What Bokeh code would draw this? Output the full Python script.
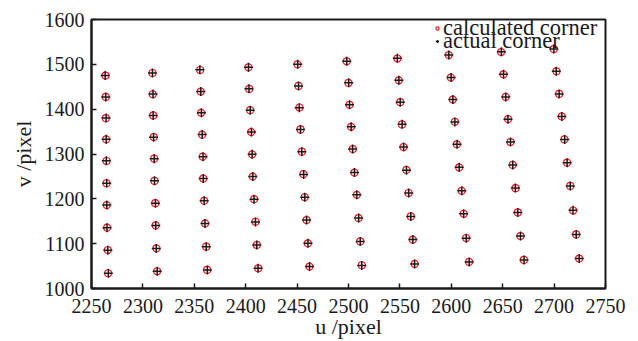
from bokeh.plotting import figure
from bokeh.models import Range1d, FixedTicker, Legend, LegendItem
from bokeh.embed import file_html
from bokeh.resources import INLINE

# ---------------- data ----------------
x_ticks = [2250, 2300, 2350, 2400, 2450, 2500, 2550, 2600, 2650, 2700, 2750]
y_ticks = [1000, 1100, 1200, 1300, 1400, 1500, 1600]

# calculated corners (column by column, top to bottom)
u_calc = [
    2263.6, 2263.9, 2263.9, 2264.3, 2264.6, 2264.6, 2264.9, 2265.3, 2265.9, 2266.2,
    2309.3, 2309.6, 2310.0, 2310.6, 2311.0, 2311.3, 2312.0, 2312.5, 2313.2, 2313.9,
    2355.7, 2356.3, 2356.7, 2357.7, 2358.3, 2358.7, 2359.6, 2360.6, 2361.6, 2362.5,
    2402.7, 2403.4, 2404.4, 2405.4, 2406.3, 2406.9, 2408.3, 2409.5, 2410.8, 2412.2,
    2450.4, 2451.4, 2452.3, 2453.3, 2454.6, 2456.2, 2457.5, 2459.2, 2460.4, 2462.1,
    2498.3, 2500.0, 2501.0, 2502.6, 2504.2, 2505.8, 2508.1, 2509.7, 2511.4, 2512.9,
    2547.7, 2549.0, 2550.3, 2552.0, 2553.6, 2556.4, 2558.4, 2560.6, 2562.6, 2564.5,
    2597.6, 2599.6, 2601.5, 2603.5, 2605.4, 2607.7, 2610.2, 2612.2, 2614.5, 2617.4,
    2648.5, 2650.8, 2653.0, 2655.3, 2657.6, 2659.8, 2662.5, 2664.7, 2667.3, 2670.6,
    2699.7, 2702.3, 2704.9, 2707.5, 2710.1, 2712.7, 2715.7, 2718.6, 2721.5, 2724.4,
]
v_calc = [
    1474.9, 1427.3, 1380.0, 1332.7, 1284.4, 1234.8, 1186.0, 1135.6, 1085.9, 1034.0,
    1480.7, 1433.3, 1386.0, 1337.8, 1289.6, 1240.0, 1190.4, 1140.7, 1089.6, 1038.5,
    1487.4, 1439.3, 1391.9, 1343.0, 1294.0, 1245.2, 1195.6, 1145.2, 1093.3, 1041.5,
    1493.3, 1445.1, 1397.8, 1348.9, 1299.3, 1249.6, 1199.3, 1148.9, 1097.1, 1045.1,
    1500.0, 1451.9, 1403.7, 1354.8, 1305.1, 1254.9, 1203.8, 1152.7, 1100.7, 1048.9,
    1506.7, 1458.5, 1409.6, 1360.7, 1311.0, 1258.5, 1208.9, 1157.0, 1105.0, 1051.9,
    1513.0, 1464.4, 1415.6, 1366.0, 1315.6, 1264.4, 1213.0, 1160.7, 1108.9, 1054.8,
    1520.7, 1470.4, 1421.5, 1371.9, 1321.5, 1270.0, 1217.8, 1166.7, 1112.6, 1059.3,
    1527.4, 1477.8, 1427.4, 1377.8, 1326.7, 1275.6, 1223.7, 1169.6, 1117.0, 1063.7,
    1534.0, 1484.4, 1434.0, 1383.7, 1332.6, 1280.7, 1228.9, 1174.0, 1120.7, 1066.7,
]

# actual corners (column by column, top to bottom)
u_act = [
    2263.3, 2263.9, 2264.2, 2264.3, 2264.4, 2264.8, 2264.9, 2265.1, 2265.9, 2266.4,
    2309.3, 2309.8, 2310.0, 2310.4, 2311.0, 2311.3, 2312.2, 2312.5, 2313.0, 2313.9,
    2355.4, 2356.3, 2356.9, 2357.7, 2358.5, 2358.7, 2359.6, 2360.4, 2361.6, 2362.7,
    2402.7, 2403.2, 2404.4, 2405.6, 2406.3, 2406.9, 2408.1, 2409.5, 2410.8, 2412.0,
    2450.6, 2451.4, 2452.1, 2453.3, 2454.6, 2456.4, 2457.5, 2459.2, 2460.6, 2462.1,
    2498.3, 2500.2, 2501.0, 2502.6, 2504.0, 2505.8, 2508.1, 2509.9, 2511.4, 2512.9,
    2547.5, 2549.0, 2550.3, 2552.2, 2553.6, 2556.4, 2558.6, 2560.6, 2562.6, 2564.3,
    2597.6, 2599.8, 2601.5, 2603.5, 2605.6, 2607.7, 2610.2, 2612.0, 2614.5, 2617.4,
    2648.7, 2650.8, 2653.0, 2655.1, 2657.6, 2659.8, 2662.3, 2664.7, 2667.3, 2670.8,
    2699.7, 2702.1, 2704.9, 2707.5, 2710.3, 2712.7, 2715.7, 2718.4, 2721.5, 2724.4,
]
v_act = [
    1475.3, 1427.3, 1380.4, 1332.7, 1284.8, 1234.8, 1186.4, 1135.6, 1085.5, 1034.0,
    1480.7, 1433.7, 1386.0, 1337.4, 1289.6, 1240.4, 1190.4, 1140.7, 1089.2, 1038.5,
    1487.9, 1439.3, 1391.9, 1343.4, 1294.0, 1245.2, 1196.0, 1145.2, 1093.3, 1041.1,
    1493.3, 1445.5, 1397.8, 1348.9, 1299.7, 1249.6, 1199.3, 1148.5, 1097.1, 1045.1,
    1500.4, 1451.9, 1403.3, 1354.8, 1305.1, 1254.5, 1203.8, 1152.7, 1101.1, 1048.9,
    1506.7, 1458.9, 1409.6, 1360.7, 1311.4, 1258.5, 1208.9, 1157.4, 1105.0, 1051.5,
    1513.4, 1464.4, 1415.6, 1366.4, 1315.6, 1264.0, 1213.0, 1160.7, 1109.3, 1054.8,
    1520.7, 1470.8, 1421.5, 1371.5, 1321.5, 1270.4, 1217.8, 1166.7, 1112.2, 1059.3,
    1527.8, 1477.8, 1427.4, 1377.4, 1326.7, 1275.6, 1224.1, 1169.6, 1117.0, 1063.3,
    1534.4, 1484.4, 1434.0, 1383.7, 1332.2, 1280.7, 1228.9, 1174.4, 1120.7, 1066.7,
]

series_labels = ["calculated corner", "actual corner"]
x_label = "u /pixel"
y_label = "v /pixel"

FONT = "Liberation Serif"

p = figure(
    width=630, height=341,
    x_range=Range1d(2250, 2750), y_range=Range1d(1000, 1600),
    output_backend="svg", toolbar_location=None,
    min_border_left=91, min_border_right=25, min_border_top=19, min_border_bottom=52,
)
p.background_fill_color = "white"
p.border_fill_color = "white"
p.xgrid.visible = False
p.ygrid.visible = False
p.outline_line_color = "#1a1a1a"
p.outline_line_width = 2
p.outline_line_alpha = 1

r_calc = p.scatter(u_calc, v_calc, marker="circle", size=7, fill_color=None,
                   line_color="#ee1c25", line_width=1.2)
r_act = p.scatter(u_act, v_act, marker="cross", size=9, line_color="#1a1a1a",
                  line_width=1.5)

for ax, ticks, lab in ((p.xaxis, x_ticks, x_label), (p.yaxis, y_ticks, y_label)):
    ax.ticker = FixedTicker(ticks=ticks)
    ax.minor_tick_line_color = None
    ax.major_tick_in = 5
    ax.major_tick_out = 0
    ax.major_tick_line_width = 1.5
    ax.major_tick_line_color = "#1a1a1a"
    ax.axis_line_width = 2
    ax.axis_line_color = "#1a1a1a"
    ax.major_label_text_font = FONT
    ax.major_label_text_font_size = "20px"
    ax.major_label_text_color = "#1a1a1a"
    ax.axis_label = lab
    ax.axis_label_text_font = FONT
    ax.axis_label_text_font_size = "22px"
    ax.axis_label_text_font_style = "normal"
    ax.axis_label_text_color = "#1a1a1a"

p.xaxis.major_label_standoff = 10
p.xaxis.axis_label_standoff = -2
p.yaxis.major_label_standoff = 7
p.yaxis.axis_label_standoff = 6

common = dict(
    background_fill_alpha=0, border_line_alpha=0,
    label_text_font=FONT, label_text_font_size="22.5px", label_text_color="#1a1a1a",
    glyph_width=8, glyph_height=28, label_height=28, label_standoff=2,
    padding=0, margin=0, spacing=0,
)
legend1 = Legend(items=[LegendItem(label=series_labels[0], renderers=[r_calc])],
                 location=(342, 246), **common)
legend2 = Legend(items=[LegendItem(label=series_labels[1], renderers=[r_act])],
                 location=(342, 233), **common)
p.add_layout(legend1)
p.add_layout(legend2)

open("out.html", "w").write(file_html(p, INLINE))
